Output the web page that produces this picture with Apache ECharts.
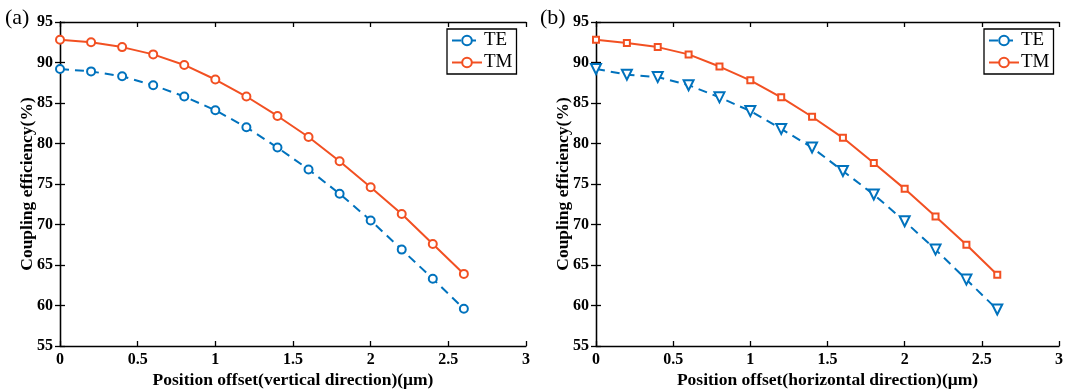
<!DOCTYPE html>
<html>
<head>
<meta charset="utf-8">
<script src="https://cdn.jsdelivr.net/npm/echarts@6/dist/echarts.min.js"></script>
<style>
  html, body { margin: 0; padding: 0; background: #fff; }
  #chart { width: 1065px; height: 391px; }
</style>
</head>
<body>
<div id="chart"></div>
<script>
// offsets in um
const offsets = [0, 0.2, 0.4, 0.6, 0.8, 1.0, 1.2, 1.4, 1.6, 1.8, 2.0, 2.2, 2.4, 2.6];

// (a) vertical direction
const teVertical = [89.2, 88.9, 88.3, 87.2, 85.8, 84.1, 82.0, 79.5, 76.8, 73.8, 70.5, 66.9, 63.3, 59.6];
const tmVertical = [92.8, 92.5, 91.9, 91.0, 89.7, 87.9, 85.8, 83.4, 80.8, 77.8, 74.6, 71.3, 67.6, 63.9];

// (b) horizontal direction
const teHorizontal = [89.2, 88.5, 88.2, 87.2, 85.7, 84.0, 81.8, 79.5, 76.6, 73.7, 70.4, 66.9, 63.2, 59.5];
const tmHorizontal = [92.8, 92.4, 91.9, 91.0, 89.5, 87.8, 85.7, 83.3, 80.7, 77.6, 74.4, 71.0, 67.5, 63.8];

const xTicks = [0, 0.5, 1, 1.5, 2, 2.5, 3];
const yTicks = [55, 60, 65, 70, 75, 80, 85, 90, 95];

const blue = '#0072BD';
const orange = '#F25022';
const serif = '"Liberation Serif", "Times New Roman", serif';

const chart = echarts.init(document.getElementById('chart'), null, {renderer: 'canvas'});

const pairs = (ys) => offsets.map((x, i) => [x, ys[i]]);

const labelStyle = {
  color: '#000',
  fontFamily: serif,
  fontWeight: 'bold',
  fontSize: 16
};
const titleStyle = {color: '#000', fontFamily: serif, fontWeight: 'bold', fontSize: 17.5};

function xAxisFor(gridIndex, title) {
  return [
    {
      gridIndex: gridIndex,
      type: 'value',
      min: xTicks[0],
      max: xTicks[xTicks.length - 1],
      interval: 0.5,
      name: title,
      nameLocation: 'middle',
      nameGap: 25,
      nameMoveOverlap: false,
      nameTextStyle: titleStyle,
      axisLine: {show: true, lineStyle: {color: '#000', width: 1.3}},
      axisTick: {show: true, inside: true, length: 5, lineStyle: {color: '#000', width: 1.3}},
      axisLabel: Object.assign({margin: 6, formatter: (v) => String(v)}, labelStyle),
      splitLine: {show: false}
    },
    {
      // top edge of the box
      gridIndex: gridIndex,
      type: 'value',
      position: 'top',
      min: xTicks[0],
      max: xTicks[xTicks.length - 1],
      interval: 0.5,
      axisLine: {show: true, lineStyle: {color: '#000', width: 1.3}},
      axisTick: {show: true, inside: true, length: 5, lineStyle: {color: '#000', width: 1.3}},
      axisLabel: {show: false},
      splitLine: {show: false}
    }
  ];
}

function yAxisFor(gridIndex) {
  return [
    {
      gridIndex: gridIndex,
      type: 'value',
      min: yTicks[0],
      max: yTicks[yTicks.length - 1],
      interval: 5,
      name: 'Coupling efficiency(%)',
      nameLocation: 'middle',
      nameGap: 24,
      nameMoveOverlap: false,
      nameTextStyle: titleStyle,
      axisLine: {show: true, lineStyle: {color: '#000', width: 1.3}},
      axisTick: {show: true, inside: true, length: 5, lineStyle: {color: '#000', width: 1.3}},
      axisLabel: Object.assign({margin: 7}, labelStyle),
      splitLine: {show: false}
    },
    {
      // right edge of the box
      gridIndex: gridIndex,
      type: 'value',
      position: 'right',
      min: yTicks[0],
      max: yTicks[yTicks.length - 1],
      interval: 5,
      axisLine: {show: true, lineStyle: {color: '#000', width: 1.3}},
      axisTick: {show: true, inside: true, length: 5, lineStyle: {color: '#000', width: 1.3}},
      axisLabel: {show: false},
      splitLine: {show: false}
    }
  ];
}

function lineSeries(name, data, axisIdx, color, symbol, size, dashed, rotate) {
  return {
    name: name,
    type: 'line',
    xAxisIndex: axisIdx,
    yAxisIndex: axisIdx,
    data: data,
    symbol: symbol,
    symbolSize: size,
    symbolRotate: rotate || 0,
    showAllSymbol: true,
    lineStyle: {color: color, width: 2, type: dashed ? [9, 6] : 'solid'},
    itemStyle: {color: color, borderColor: color, borderWidth: 1.6},
    emphasis: {disabled: true},
    animation: false,
    z: name === 'TE' ? 3 : 2
  };
}

const legendBase = {
  orient: 'vertical',
  borderColor: '#000',
  borderWidth: 1.3,
  backgroundColor: '#fff',
  padding: [2, 4, 2, 4],
  itemGap: 3,
  itemWidth: 30,
  itemHeight: 12,
  textStyle: {color: '#000', fontFamily: serif, fontSize: 19, lineHeight: 16, padding: [0, 0, 0, -3]},
  selectedMode: false
};

const option = {
  backgroundColor: '#fff',
  animation: false,
  title: [
    {text: '(a)', left: 0, top: 2, textStyle: {color: '#000', fontFamily: serif, fontWeight: 'normal', fontSize: 22}},
    {text: '(b)', left: 535, top: 2, textStyle: {color: '#000', fontFamily: serif, fontWeight: 'normal', fontSize: 22}}
  ],
  grid: [
    {left: 60, right: 539, top: 22, bottom: 45, outerBoundsMode: 'none'},
    {left: 596, right: 6, top: 22, bottom: 45, outerBoundsMode: 'none'}
  ],
  xAxis: xAxisFor(0, 'Position offset(vertical direction)(μm)')
    .concat(xAxisFor(1, 'Position offset(horizontal direction)(μm)')),
  yAxis: yAxisFor(0).concat(yAxisFor(1)),
  legend: [
    Object.assign({}, legendBase, {left: 447, top: 29, data: [{name: 'TE'}, {name: 'TM'}], seriesIndex: [0, 1]}),
    Object.assign({}, legendBase, {left: 984, top: 29, data: [{name: 'TE'}, {name: 'TM'}], seriesIndex: [2, 3]})
  ],
  series: [
    lineSeries('TE', pairs(teVertical), 0, blue, 'emptyCircle', 8, true),
    lineSeries('TM', pairs(tmVertical), 0, orange, 'emptyCircle', 8, false),
    lineSeries('TE', pairs(teHorizontal), 2, blue, 'emptyTriangle', 10, true, 180),
    lineSeries('TM', pairs(tmHorizontal), 2, orange, 'emptyRect', 6, false)
  ]
};

chart.setOption(option);
</script>
</body>
</html>
